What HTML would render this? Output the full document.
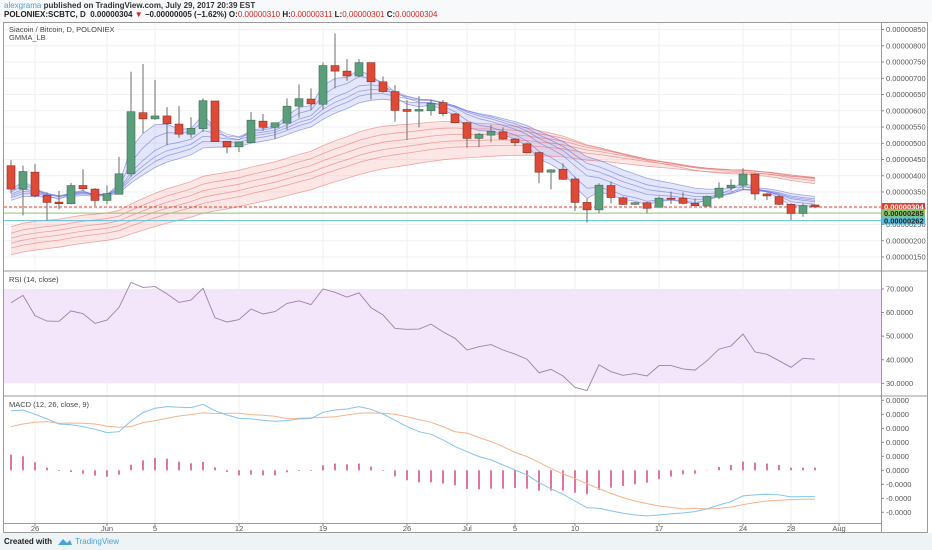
<!DOCTYPE html>
<html><head><meta charset="utf-8">
<style>
html,body{margin:0;padding:0;background:#fff;}
body{width:932px;height:550px;overflow:hidden;position:relative;font-family:"Liberation Sans",sans-serif;}
#hdr{position:absolute;left:0;top:0;width:932px;height:22px;background:#f7f9fa;}
.h1{position:absolute;left:4px;top:1px;font-size:8px;font-weight:bold;color:#333;white-space:nowrap;}
.h2{position:absolute;left:4px;top:10px;font-size:8px;font-weight:bold;color:#222;white-space:nowrap;}
.h1 .u{color:#4aa3d6;font-weight:normal;}
.r{color:#d2261f;font-weight:normal;}
#foot{position:absolute;left:0;top:533px;width:932px;height:17px;background:#eef3f6;}
#foot .c{position:absolute;left:4px;top:4px;font-size:8px;font-weight:bold;color:#222;}
#foot .tv{position:absolute;left:75px;top:4px;font-size:8px;color:#4aa3d6;}
svg{position:absolute;left:0;top:0;}
svg text{font-family:"Liberation Sans",sans-serif;}
</style></head><body>
<div id="hdr">
<div class="h1"><span class="u">alexgrama</span> published on TradingView.com, July 29, 2017 20:39 EST</div>
<div class="h2">POLONIEX:SCBTC, D &nbsp;0.00000304 <span class="r">▼</span> −0.00000005 (−1.62%) O:<span class="r">0.00000310</span> H:<span class="r">0.00000311</span> L:<span class="r">0.00000301</span> C:<span class="r">0.00000304</span></div>
</div>
<svg id="chart" width="932" height="550"></svg>
<div id="foot"><span class="c">Created with</span><svg width="16" height="10" style="left:57px;top:537px;position:fixed"><path d="M1 8 L6 2 L10 6 L13 3 L15 8 Z" fill="#4aa3d6"/></svg><span class="tv">TradingView</span></div>
<script>
// ---- data (prices in satoshi, 1e-8 BTC) ----
const opens=[431,359,411,340,319,314,370,359,324,343,406,594,575,584,559,528,545,630,506,489,502,568,549,562,614,636,620,739,722,707,748,689,659,604,599,600,625,590,563,515,525,535,513,498,471,411,420,390,318,295,370,332,312,317,303,331,331,315,307,334,363,371,405,344,336,312,284,310];
const highs=[448,431,437,349,353,378,420,362,370,458,720,744,695,611,615,580,638,630,507,505,596,590,563,638,681,669,749,838,759,759,748,705,679,633,645,635,633,593,566,532,556,549,516,502,474,420,438,397,330,377,382,336,320,320,336,351,349,330,339,380,389,423,407,348,341,315,315,311];
const lows=[346,278,333,262,297,312,353,307,312,343,397,531,572,494,517,517,535,505,469,473,500,538,513,541,579,602,604,669,692,703,635,656,566,510,549,585,583,561,486,488,503,510,491,469,377,358,387,292,256,284,315,310,310,284,302,313,312,307,305,328,354,356,325,325,310,264,274,301];
const closes=[359,413,338,318,314,370,360,324,345,406,597,575,584,560,528,546,631,505,489,504,571,549,563,614,637,621,739,722,707,748,689,659,601,598,604,623,591,563,515,528,537,513,502,471,411,418,389,318,295,371,333,312,317,300,331,329,315,308,336,362,371,405,344,338,312,284,308,304];
const shortPeriods=[3,5,8,10,12,15];
const shortSeeds=[350,345,338,333,328,320];
const longPeriods=[30,35,40,45,50,60];
const longSeeds=[235,215,200,185,170,150];
const hLevels=[304,285,262];
const priceTicks=[850,800,750,700,650,600,550,500,450,400,350,300,250,200,150];
const rsi=[64.2,67.3,58.7,56.4,56.3,60.7,59.5,55.4,56.8,62.2,72.8,70.7,71.0,67.9,64.3,65.3,70.3,57.8,56.0,57.0,61.5,59.4,60.4,63.9,65.0,63.4,70.0,68.6,66.5,68.4,62.1,59.0,53.3,52.9,53.0,55.1,51.8,49.1,44.1,45.5,46.4,44.1,42.4,40.2,34.5,35.9,33.1,28.3,26.9,37.8,34.9,33.4,34.1,33.1,37.5,37.5,36.1,35.6,39.6,44.5,45.8,50.9,43.3,42.3,39.6,36.8,40.6,40.2];
const rsiTicks=[70,60,50,40,30];
const macd=[4.24,4.31,4.0,3.67,3.31,3.26,3.12,2.93,2.69,2.76,3.52,4.12,4.43,4.55,4.5,4.48,4.71,4.26,3.95,3.71,3.67,3.57,3.5,3.55,3.67,3.69,4.14,4.31,4.38,4.55,4.36,4.02,3.57,3.12,2.76,2.57,2.17,1.69,1.33,0.98,0.74,0.38,0.02,-0.33,-0.88,-1.33,-1.71,-2.19,-2.67,-2.71,-2.9,-3.07,-3.19,-3.26,-3.19,-3.1,-3.05,-2.95,-2.76,-2.48,-2.24,-1.83,-1.76,-1.71,-1.76,-1.9,-1.88,-1.88];
const signal=[3.12,3.31,3.43,3.48,3.36,3.38,3.36,3.31,3.14,3.07,3.12,3.41,3.55,3.72,3.88,3.98,4.11,4.05,4.07,4.07,3.98,3.93,3.86,3.69,3.72,3.74,3.78,3.83,3.95,4.07,4.10,4.07,4.0,3.83,3.62,3.43,3.12,2.76,2.66,2.34,2.05,1.69,1.28,0.98,0.57,0.12,-0.26,-0.59,-0.96,-1.31,-1.66,-1.95,-2.19,-2.38,-2.55,-2.65,-2.76,-2.71,-2.76,-2.72,-2.62,-2.45,-2.31,-2.19,-2.14,-2.09,-2.07,-2.07];
const hist=[1.12,1.0,0.57,0.19,-0.05,-0.12,-0.24,-0.38,-0.45,-0.31,0.40,0.71,0.88,0.83,0.62,0.5,0.6,0.21,-0.12,-0.36,-0.31,-0.36,-0.36,-0.14,-0.05,-0.05,0.36,0.48,0.43,0.48,0.26,-0.05,-0.43,-0.71,-0.86,-0.86,-0.95,-1.07,-1.33,-1.36,-1.31,-1.31,-1.26,-1.31,-1.45,-1.45,-1.45,-1.6,-1.71,-1.40,-1.24,-1.12,-1.0,-0.88,-0.64,-0.45,-0.29,-0.24,-0.02,0.24,0.38,0.62,0.55,0.48,0.38,0.19,0.19,0.19];
const macdTicks=[5,4,3,2,1,0,-1,-2,-3];
const dateLabels=["26","Jun","5","12","19","26","Jul","5","10","17","24","28","Aug"];
const dateIdx=[2,8,12,19,26,33,38,42,47,54,61,65,69];

// ---- scales ----
const X0=4,X1=881;
const xs=i=>11+12*i;
const py=p=>29.5+(850-p)*0.325;
const ry=v=>289+(70-v)*2.357;
const my=v=>470.3-14*v;
const NS='http://www.w3.org/2000/svg';
const svg=document.getElementById('chart');
function mk(t,a,parent){const e=document.createElementNS(NS,t);for(const k in a)e.setAttribute(k,a[k]);(parent||svg).appendChild(e);return e;}
function ema(p,seed){const a=2/(p+1);let v=seed;return closes.map(c=>{v=a*c+(1-a)*v;return v;});}
function pts(arr,f){return arr.map((v,i)=>xs(i)+','+f(v).toFixed(1)).join(' ');}

// frame & grid
let fr=mk('rect',{x:3.5,y:22.5,width:924,height:510,fill:'none',stroke:'#9a9a9a','stroke-width':1});


const grid=mk('g',{stroke:'#f1f1f1','stroke-width':1});


dateIdx.forEach(i=>{mk('line',{x1:xs(i),x2:xs(i),y1:23,y2:523},grid);});
priceTicks.forEach(p=>{mk('line',{x1:X0,x2:X1,y1:py(p),y2:py(p)},grid);});

// RSI band
let band=mk('rect',{x:X0,y:ry(70),width:X1-X0,height:ry(30)-ry(70),fill:'#f3e6fb'});



// GMMA
const shortE=shortPeriods.map((p,k)=>ema(p,shortSeeds[k]));
const longE=longPeriods.map((p,k)=>ema(p,longSeeds[k]));
function bandPoly(a,b,fill,name){const up=a.map((v,i)=>xs(i)+','+py(v).toFixed(1));const dn=b.map((v,i)=>xs(i)+','+py(v).toFixed(1)).reverse();
 const e=mk('polygon',{points:up.concat(dn).join(' '),fill:fill});
 
 }
bandPoly(longE[0],longE[5],'rgba(245,140,140,0.22)','gmma-long-fill');
bandPoly(shortE[0],shortE[5],'rgba(120,130,235,0.2)','gmma-short-fill');
longE.forEach((s,k)=>{const e=mk('polyline',{points:pts(s,py),fill:'none',stroke:'rgba(225,100,100,0.55)','stroke-width':0.8});
 
 });
shortE.forEach((s,k)=>{const e=mk('polyline',{points:pts(s,py),fill:'none',stroke:'rgba(100,110,220,0.6)','stroke-width':0.8});
 
 });

// horizontal levels
const lvCol=['#e0402f','#8cc46a','#5bc0de'];
hLevels.forEach((p,k)=>{const e=mk('line',{x1:X0,x2:X1,y1:py(p),y2:py(p),stroke:lvCol[k],'stroke-width':1,'stroke-dasharray':k==0?'3,2':'none'});
 
 });

// candles
closes.forEach((c,i)=>{const o=opens[i],up=c>=o;const g=mk('g',{});
 
 
 mk('line',{x1:xs(i),x2:xs(i),y1:py(highs[i]),y2:py(lows[i]),stroke:'#6e6e6e','stroke-width':1},g);
 const t=py(Math.max(o,c)),b=py(Math.min(o,c));
 mk('rect',{x:xs(i)-4,y:t,width:8,height:Math.max(1,b-t),fill:up?'#5b9e7b':'#dc4a38',stroke:up?'#3f6b54':'#8f2c22','stroke-width':0.6},g);});

// RSI line
let rl=mk('polyline',{points:pts(rsi,ry),fill:'none',stroke:'#9b82a8','stroke-width':0.9});



// MACD
hist.forEach((v,i)=>{const e=mk('line',{x1:xs(i),x2:xs(i),y1:my(0),y2:my(v),stroke:'#d9508a','stroke-width':1.6});
 
 });
let sl=mk('polyline',{points:pts(signal,my),fill:'none',stroke:'#f5b38c','stroke-width':1});


let ml=mk('polyline',{points:pts(macd,my),fill:'none',stroke:'#84c3ec','stroke-width':1});



// pane dividers & axes
[[271],[396]].forEach(([y])=>{const e=mk('line',{x1:3,x2:928,y1:y,y2:y,stroke:'#9a9a9a','stroke-width':1});
 
 });
let ax=mk('line',{x1:881.5,x2:881.5,y1:22,y2:532,stroke:'#9a9a9a','stroke-width':1});


let dx=mk('line',{x1:3,x2:881,y1:523.5,y2:523.5,stroke:'#9a9a9a','stroke-width':1});



function lab(x,y,s,name,fill,anchor){const t=mk('text',{x:x,y:y,'font-size':7.5,fill:fill||'#555','text-anchor':anchor||'start'});t.textContent=s;
 
 return t;}
priceTicks.forEach(p=>{mk('line',{x1:881,x2:884,y1:py(p),y2:py(p),stroke:'#888'});lab(886,py(p)+2.6,'0.00000'+String(p).padStart(3,'0'),'price-tick-label');});
rsiTicks.forEach(v=>{mk('line',{x1:881,x2:884,y1:ry(v),y2:ry(v),stroke:'#888'});lab(886,ry(v)+2.6,v.toFixed(4),'rsi-tick-label');});
macdTicks.forEach(v=>{mk('line',{x1:881,x2:884,y1:my(v),y2:my(v),stroke:'#888'});lab(886,my(v)+2.6,(v<0?'-':'')+'0.0000','macd-tick-label');});
dateLabels.forEach((s,k)=>{mk('line',{x1:xs(dateIdx[k]),x2:xs(dateIdx[k]),y1:523,y2:526,stroke:'#888'});lab(xs(dateIdx[k]),531,s,'date-label','#555','middle');});

// level price boxes
const boxCol=['#e0402f','#8cc46a','#5bc0de'];
const boxTxt=['#fff','#222','#222'];
hLevels.forEach((p,k)=>{const y=py(p);const r=mk('rect',{x:882,y:y-4,width:43,height:8,fill:boxCol[k]});
 
 
 lab(884,y+2.7,'0.00000'+p,'level-price-label',boxTxt[k]).setAttribute('font-weight','bold');});

// pane titles
const t1=lab(9,32,'Siacoin / Bitcoin, D, POLONIEX','main-title','#444');
const t2=lab(9,40,'GMMA_LB','gmma-title','#444');
const t3=lab(9,282,'RSI (14, close)','rsi-title','#444');
const t4=lab(9,407,'MACD (12, 26, close, 9)','macd-title','#444');
</script>
</body></html>
